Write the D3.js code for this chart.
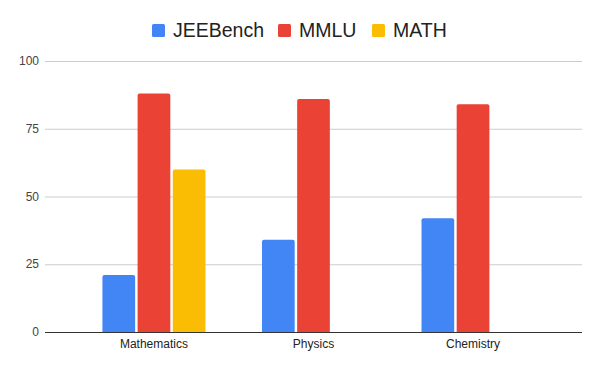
<!DOCTYPE html>
<html>
<head>
<meta charset="utf-8">
<script src="https://cdn.jsdelivr.net/npm/d3@7"></script>
<style>
  body { margin: 0; background: #fff; }
  text { font-family: "Liberation Sans", Arial, sans-serif; }
</style>
</head>
<body>
<div id="chart"></div>
<script>
var subjects = ["Mathematics", "Physics", "Chemistry"];
var seriesNames = ["JEEBench", "MMLU", "MATH"];
var jeeBench = [21, 34, 42];
var mmlu = [88, 86, 84];
var math = [60, null, null];
var yTicks = [0, 25, 50, 75, 100];

var colors = ["#4285F4", "#EA4335", "#FBBC04"];
var width = 600, height = 371;
var plotLeft = 45, plotRight = 582, plotTop = 61, plotBottom = 332;

// build rows from the named arrays
var allSeries = [jeeBench, mmlu, math];
var rows = subjects.map(function(s, i) {
    return { subject: s, values: seriesNames.map(function(n, j) { return { name: n, value: allSeries[j][i] }; }) };
});

var svg = d3.select("#chart").append("svg")
    .attr("width", width)
    .attr("height", height);

var x0 = d3.scaleBand().domain(subjects).range([plotLeft, plotRight]).paddingInner(0.354).paddingOuter(0.36);
var x1 = d3.scaleBand().domain(seriesNames).range([0, x0.bandwidth()]).paddingInner(0.07);
var y = d3.scaleLinear().domain([0, 100]).range([plotBottom, plotTop]);
var color = d3.scaleOrdinal(seriesNames, colors);

// gridlines
svg.append("g").selectAll("line")
    .data(yTicks.filter(function(d) { return d > 0; }))
    .enter().append("line")
    .attr("x1", plotLeft).attr("x2", plotRight)
    .attr("y1", function(d) { return y(d) + 0.5; })
    .attr("y2", function(d) { return y(d) + 0.5; })
    .attr("stroke", "#cccccc");

// y tick labels
svg.append("g").selectAll("text")
    .data(yTicks)
    .enter().append("text")
    .attr("x", 39)
    .attr("y", function(d) { return y(d); })
    .attr("dy", "0.35em")
    .attr("text-anchor", "end")
    .attr("font-size", 12)
    .attr("fill", "#444")
    .text(function(d) { return d; });

// bars
var groups = svg.append("g").selectAll("g")
    .data(rows)
    .enter().append("g")
    .attr("transform", function(d) { return "translate(" + x0(d.subject) + ",0)"; });

groups.selectAll("path")
    .data(function(d) { return d.values.filter(function(v) { return v.value != null; }); })
    .enter().append("path")
    .attr("fill", function(d) { return color(d.name); })
    .attr("d", function(d) {
        var bx = x1(d.name), bw = x1.bandwidth(), by = y(d.value), bb = y(0), r = 2;
        return "M" + bx + "," + bb + "V" + (by + r) + "Q" + bx + "," + by + " " + (bx + r) + "," + by +
            "H" + (bx + bw - r) + "Q" + (bx + bw) + "," + by + " " + (bx + bw) + "," + (by + r) + "V" + bb + "Z";
    });

// baseline
svg.append("line")
    .attr("x1", plotLeft).attr("x2", plotRight)
    .attr("y1", y(0) + 0.5).attr("y2", y(0) + 0.5)
    .attr("stroke", "#333333");

// x labels
svg.append("g").selectAll("text")
    .data(subjects)
    .enter().append("text")
    .attr("x", function(d) { return x0(d) + x0.bandwidth() / 2; })
    .attr("y", 348)
    .attr("text-anchor", "middle")
    .attr("font-size", 12)
    .attr("fill", "#222")
    .text(function(d) { return d; });

// legend
var legendX = [152, 278, 372];
var legend = svg.append("g").selectAll("g")
    .data(seriesNames)
    .enter().append("g")
    .attr("transform", function(d, i) { return "translate(" + legendX[i] + ",24)"; });
legend.append("rect")
    .attr("width", 13).attr("height", 13).attr("rx", 1.5)
    .attr("fill", function(d) { return color(d); });
legend.append("text")
    .attr("x", 21).attr("y", 13)
    .attr("font-size", 19.5)
    .attr("fill", "#222")
    .text(function(d) { return d; });
</script>
</body>
</html>
